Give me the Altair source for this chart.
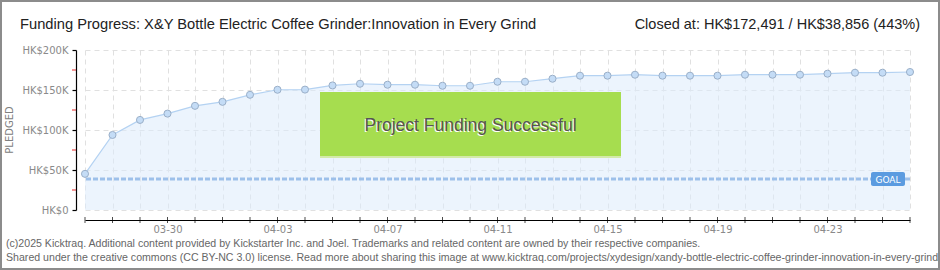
import altair as alt
import pandas as pd

# ---------------- data ----------------
dates = [
    "2025-03-27", "2025-03-28", "2025-03-29", "2025-03-30", "2025-03-31",
    "2025-04-01", "2025-04-02", "2025-04-03", "2025-04-04", "2025-04-05",
    "2025-04-06", "2025-04-07", "2025-04-08", "2025-04-09", "2025-04-10",
    "2025-04-11", "2025-04-12", "2025-04-13", "2025-04-14", "2025-04-15",
    "2025-04-16", "2025-04-17", "2025-04-18", "2025-04-19", "2025-04-20",
    "2025-04-21", "2025-04-22", "2025-04-23", "2025-04-24", "2025-04-25",
    "2025-04-26",
]
pledged = [
    45200, 93800, 112600, 120500, 130200,
    135200, 144000, 150300, 150500, 155700,
    157800, 156600, 156600, 155300, 155300,
    160300, 160300, 164100, 167900, 167900,
    169100, 167900, 167900, 167900, 169100,
    169100, 169100, 170400, 171600, 171600,
    172491,
]
goal = 38856
y_major = [0, 50000, 100000, 150000, 200000]
y_minor = [25000, 75000, 125000, 175000]
x_tick_labels = ["03-30", "04-03", "04-07", "04-11", "04-15", "04-19", "04-23"]

title_left = "Funding Progress: X&Y Bottle Electric Coffee Grinder:Innovation in Every Grind"
title_right = "Closed at:  HK$172,491 / HK$38,856 (443%)"
footer_1 = ("(c)2025 Kicktraq. Additional content provided by Kickstarter Inc. and Joel. "
            "Trademarks and related content are owned by their respective companies.")
footer_2 = ("Shared under the creative commons (CC BY-NC 3.0) license. Read more about sharing "
            "this image at www.kicktraq.com/projects/xydesign/xandy-bottle-electric-coffee-grinder-innovation-in-every-grind/")
banner_text = "Project Funding Successful"
goal_text = "GOAL"
y_title = "PLEDGED"

# ---------------- layout ----------------
W, H = 825, 160
PAD = {"left": 85, "top": 50, "right": 30, "bottom": 60}
TFONT = "Liberation Sans"
AXFONT = "DejaVu Sans"

df = pd.DataFrame({"date": dates, "pledged": pledged})
ts = [int(pd.Timestamp(d, tz="UTC").timestamp() * 1000) for d in dates]

label_list = ",".join("'%s'" % s for s in x_tick_labels)
x_enc = alt.X(
    "date:T",
    scale=alt.Scale(type="utc", nice=False,
                    domain=[alt.DateTime(year=2025, month=3, date=27, utc=True),
                            alt.DateTime(year=2025, month=4, date=26, utc=True)]),
    axis=alt.Axis(
        values=ts, title=None, offset=10, ticks=False, labelPadding=4,
        labelExpr=f"indexof([{label_list}], utcFormat(datum.value, '%m-%d')) >= 0 ? utcFormat(datum.value, '%m-%d') : ''",
        labelOverlap=False, labelFont=AXFONT, labelFontSize=10, labelColor="#8a8a8a",
        domainColor="#000", domainWidth=1.2,
        grid=True, gridColor="#e0e0e0", gridDash=[5, 4],
    ),
)
y_enc = alt.Y(
    "pledged:Q",
    scale=alt.Scale(domain=[0, 200000], nice=False),
    axis=alt.Axis(
        values=y_major, title=None, offset=9, tickSize=4, tickWidth=1.2, tickColor="#000",
        labelExpr="datum.value == 0 ? 'HK$0' : 'HK$' + datum.value/1000 + 'K'",
        labelOverlap=False, labelBound=False,
        labelFont=AXFONT, labelFontSize=10, labelColor="#8a8a8a", labelPadding=4,
        domainColor="#000", domainWidth=1.2,
        grid=True, gridColor="#e0e0e0", gridDash=[5, 4],
    ),
)

base = alt.Chart(df)
one = pd.DataFrame({"k": [0]})

border = alt.Chart(one).mark_rect(fillOpacity=0, stroke="#8c8c8c", strokeWidth=2).encode(
    x=alt.value(-84), x2=alt.value(W + 29), y=alt.value(-49), y2=alt.value(H + 59))

area = base.mark_area(color="#dcebfb", opacity=0.55).encode(x=x_enc, y=y_enc)
line = base.mark_line(color="#b4d2f2", strokeWidth=1.2).encode(x=x_enc, y=y_enc)
ticks = base.mark_tick(orient="vertical", size=6, thickness=1, color="#000").encode(
    x=x_enc, y=alt.value(H + 10))
minor = alt.Chart(pd.DataFrame({"pledged": y_minor})).mark_tick(
    orient="horizontal", size=4, thickness=1.2, color="#e00000").encode(
    y=y_enc, x=alt.value(-11))

goal_rule = alt.Chart(pd.DataFrame({"pledged": [goal]})).mark_rule(
    color="#9dc0ea", strokeWidth=3, strokeDash=[5, 2]).encode(y=y_enc)

banner = alt.Chart(one).mark_rect(color="#a6dd4f").encode(
    x=alt.value(235), x2=alt.value(536), y=alt.value(42), y2=alt.value(107))
banner_edge = alt.Chart(one).mark_rule(color="#d3eaa9", strokeWidth=2).encode(
    x=alt.value(235), x2=alt.value(536), y=alt.value(107))
bt = pd.DataFrame({"t": [banner_text]})
banner_shadow = alt.Chart(bt).mark_text(font=TFONT, fontSize=17.5, color="#ffffff",
                                        align="center", baseline="middle").encode(
    x=alt.value(384.5), y=alt.value(77), text="t:N")
banner_txt = alt.Chart(bt).mark_text(font=TFONT, fontSize=17.5, color="#555555",
                                     align="center", baseline="middle").encode(
    x=alt.value(385.5), y=alt.value(76), text="t:N")

points = base.mark_point(filled=True, size=50, fill="#c4dcf6", stroke="#9aafc8",
                         strokeWidth=1, opacity=1).encode(x=x_enc, y=y_enc)

goal_box = alt.Chart(one).mark_rect(color="#5b9be0", cornerRadius=2).encode(
    x=alt.value(786), x2=alt.value(820), y=alt.value(122), y2=alt.value(136))
goal_lbl = alt.Chart(pd.DataFrame({"t": [goal_text]})).mark_text(
    font=AXFONT, fontSize=9, color="#ffffff", align="center", baseline="middle").encode(
    x=alt.value(803), y=alt.value(129.5), text="t:N")

y_lbl = alt.Chart(pd.DataFrame({"t": [y_title]})).mark_text(
    font=AXFONT, fontSize=10, color="#808080", align="center", baseline="middle", angle=270).encode(
    x=alt.value(10 - 85), y=alt.value(H / 2), text="t:N")

t_left = alt.Chart(pd.DataFrame({"t": [title_left]})).mark_text(
    font=TFONT, fontSize=14.7, color="#222222", align="left", baseline="alphabetic").encode(
    x=alt.value(20 - 85), y=alt.value(29 - 50), text="t:N")
t_right = alt.Chart(pd.DataFrame({"t": [title_right]})).mark_text(
    font=TFONT, fontSize=14.5, color="#222222", align="right", baseline="alphabetic").encode(
    x=alt.value(920 - 85), y=alt.value(29 - 50), text="t:N")
f1 = alt.Chart(pd.DataFrame({"t": [footer_1]})).mark_text(
    font=TFONT, fontSize=10.6, color="#666666", align="left", baseline="alphabetic").encode(
    x=alt.value(6 - 85), y=alt.value(247 - 50), text="t:N")
f2 = alt.Chart(pd.DataFrame({"t": [footer_2]})).mark_text(
    font=TFONT, fontSize=10.6, color="#666666", align="left", baseline="alphabetic").encode(
    x=alt.value(6 - 85), y=alt.value(261 - 50), text="t:N")

chart = alt.layer(
    area, line, goal_rule, banner, banner_edge, banner_shadow, banner_txt,
    points, ticks, minor, goal_box, goal_lbl, y_lbl, t_left, t_right, f1, f2, border,
).properties(
    width=W, height=H, padding=PAD,
    autosize=alt.AutoSizeParams(type="none"),
    background="#ffffff",
).configure_view(strokeWidth=0)

chart.save("out.html", embed_options={"renderer": "svg", "actions": False})
